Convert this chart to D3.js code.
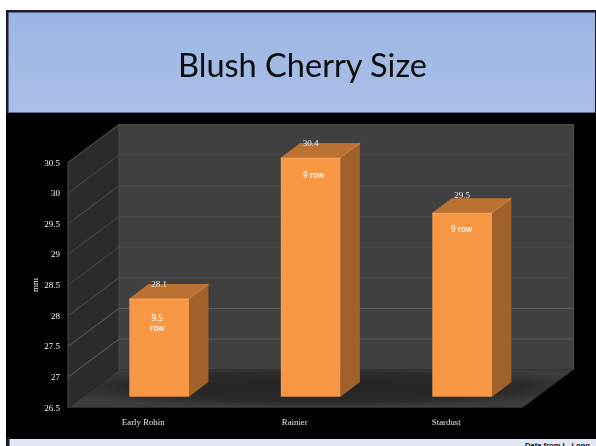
<!DOCTYPE html>
<html><head><meta charset="utf-8">
<script src="https://cdn.jsdelivr.net/npm/d3@7/dist/d3.min.js"></script>
<style>html,body{margin:0;padding:0;background:#fff}svg{display:block}</style>
</head><body>
<svg id="c" width="596" height="446"></svg>
<script>
const titleText = "Blush Cherry Size";
const sourceText = "Data from L. Long";
const axisTitle = "mm";
const categories = ["Early Robin", "Rainier", "Stardust"];
const values = [28.1, 30.4, 29.5];
const rowLabels = [["9.5", "row"], ["9 row"], ["9 row"]];
const yTicks = [26.5, 27, 27.5, 28, 28.5, 29, 29.5, 30, 30.5];

const svg = d3.select("#c");
const defs = svg.append("defs");
const hg = defs.append("linearGradient").attr("id","hdr").attr("x1",0).attr("y1",0).attr("x2",0).attr("y2",1);
hg.append("stop").attr("offset",0).attr("stop-color","#9bb5e3");
hg.append("stop").attr("offset",1).attr("stop-color","#abc0e8");
const fg = defs.append("radialGradient").attr("id","floor").attr("cx",0.5).attr("cy",0.45).attr("r",0.55);
fg.append("stop").attr("offset",0).attr("stop-color","#232323");
fg.append("stop").attr("offset",0.7).attr("stop-color","#2a2a2a");
fg.append("stop").attr("offset",1).attr("stop-color","#3c3c3c");
defs.append("filter").attr("id","soft").append("feGaussianBlur").attr("stdDeviation",0.5);
defs.append("filter").attr("id","soft2").append("feGaussianBlur").attr("stdDeviation",0.25);

// slide frame
svg.append("rect").attr("x",6).attr("y",10).attr("width",590).attr("height",436).attr("fill","#1a1a2a");
svg.append("rect").attr("x",8.5).attr("y",12.5).attr("width",586.5).attr("height",100).attr("fill","url(#hdr)");
svg.append("rect").attr("x",6).attr("y",113).attr("width",590).attr("height",326).attr("fill","#000");
svg.append("rect").attr("x",9.5).attr("y",439).attr("width",586.5).attr("height",7).attr("fill","#e1e7f4");
svg.append("text").text(titleText).attr("x",302.5).attr("y",76.5).attr("text-anchor","middle")
  .attr("font-family","Lato, 'Open Sans', sans-serif").attr("font-size",32).attr("fill","#0a0a0a")
  .attr("textLength",249).attr("lengthAdjust","spacingAndGlyphs").attr("filter","url(#soft2)");
svg.append("text").text(sourceText).attr("x",590).attr("y",448).attr("text-anchor","end")
  .attr("font-family","Liberation Sans, sans-serif").attr("font-size",7.6).attr("font-weight","bold").attr("fill","#111");

// scales
const y = d3.scaleLinear().domain([26.5,30.5]).range([407.7,162.5]);
const x = d3.scaleBand().domain(categories).range([68,522.5]);
const depth = {dx:51, dy:-38};
const yTop = y(30.5), yBot = y(26.5), x0 = 68, x1 = 522.5;
const P = pts => pts.map(p=>p.join(",")).join(" ");

// walls
svg.append("polygon").attr("points",P([[x0+depth.dx,yBot+depth.dy],[x1+depth.dx,yBot+depth.dy],[x1+depth.dx,yTop+depth.dy],[x0+depth.dx,yTop+depth.dy]])).attr("fill","#404040");
svg.append("polygon").attr("points",P([[x0,yBot],[x0+depth.dx,yBot+depth.dy],[x0+depth.dx,yTop+depth.dy],[x0,yTop]])).attr("fill","#2b2b2b");
svg.append("polygon").attr("points",P([[x0,yBot],[x1,yBot],[x1+depth.dx,yBot+depth.dy],[x0+depth.dx,yBot+depth.dy]])).attr("fill","url(#floor)");

// gridlines
const bright = v => v===27||v===27.5;
svg.append("g").selectAll("polyline").data(yTicks.slice(1)).join("polyline")
  .attr("points",d=>P([[x0,y(d)],[x0+depth.dx,y(d)+depth.dy],[x1+depth.dx,y(d)+depth.dy]]))
  .attr("fill","none").attr("stroke",d=>bright(d)?"#5e5e5e":"#4a4a4a").attr("stroke-width",1);
svg.append("polyline").attr("points",P([[x0,yBot],[x0,yTop],[x0+depth.dx,yTop+depth.dy],[x1+depth.dx,yTop+depth.dy],[x1+depth.dx,yBot+depth.dy]]))
  .attr("fill","none").attr("stroke","#4c4c4c");
svg.append("polyline").attr("points",P([[x0+depth.dx,yTop+depth.dy],[x0+depth.dx,yBot+depth.dy]]))
  .attr("fill","none").attr("stroke","#4c4c4c");

// bars
const bw = 59.7, bd = {dx:19.4, dy:-14.6}, shift = {dx:15.2, dy:-11};
const valueGap = [11.2, 11.2, 15.2];
const rowNudge = [{dx:-2, dy:22},{dx:3, dy:20.5},{dx:-0.5, dy:19}];
const bars = svg.append("g").selectAll("g").data(categories).join("g");
const bx = c => x(c)+x.bandwidth()/2+shift.dx-bw/2+0.2;
bars.each(function(c,i){
  const g = d3.select(this), l = bx(c), r = l+bw, t = y(values[i])+shift.dy, b = yBot+shift.dy;
  g.append("polygon").attr("points",P([[r,b],[r+bd.dx,b+bd.dy],[r+bd.dx,t+bd.dy],[r,t]])).attr("fill","#a0622a");
  g.append("polygon").attr("points",P([[l,t],[r,t],[r+bd.dx,t+bd.dy],[l+bd.dx,t+bd.dy]])).attr("fill","#ba7131");
  g.append("line").attr("x1",r).attr("y1",t).attr("x2",r+bd.dx).attr("y2",t+bd.dy).attr("stroke","#cc7f3a").attr("stroke-width",1.2);
  g.append("rect").attr("x",l).attr("y",t).attr("width",bw).attr("height",b-t).attr("fill","#f89844");
  g.append("line").attr("x1",l).attr("x2",r).attr("y1",t+0.6).attr("y2",t+0.6).attr("stroke","#fba350").attr("stroke-width",1.2);
  // value label
  g.append("text").text(d3.format(".1f")(values[i])).attr("x",l+bw/2).attr("y",t-valueGap[i])
    .attr("text-anchor","middle").attr("font-family","Liberation Serif, serif").attr("font-size",9)
    .attr("fill","#f0f0f0").attr("filter","url(#soft)");
  // row label
  g.append("text").attr("text-anchor","middle").attr("font-family","'Noto Sans', sans-serif")
    .attr("font-size",8).attr("font-weight",500).attr("fill","#fff").attr("filter","url(#soft2)")
    .selectAll("tspan").data(rowLabels[i]).join("tspan")
    .attr("x",l+bw/2+rowNudge[i].dx).attr("y",(d,k)=>t+rowNudge[i].dy+k*10).text(d=>d);
});

// y axis labels
svg.append("g").selectAll("text").data(yTicks).join("text").text(d=>d)
  .attr("x",60).attr("y",d=>y(d)+3).attr("text-anchor","end")
  .attr("font-family","Liberation Serif, serif").attr("font-size",9).attr("fill","#f4f4f4").attr("filter","url(#soft)");
svg.append("text").text(axisTitle).attr("transform","translate(38,285) rotate(-90)").attr("text-anchor","middle")
  .attr("font-family","Liberation Serif, serif").attr("font-size",9).attr("fill","#f4f4f4").attr("filter","url(#soft)");
// x axis labels
svg.append("g").selectAll("text").data(categories).join("text").text(d=>d)
  .attr("x",d=>x(d)+x.bandwidth()/2-0.5).attr("y",424.5).attr("text-anchor","middle")
  .attr("font-family","Liberation Serif, serif").attr("font-size",8.8).attr("fill","#e4e4e4").attr("filter","url(#soft)");
</script>
</body></html>
